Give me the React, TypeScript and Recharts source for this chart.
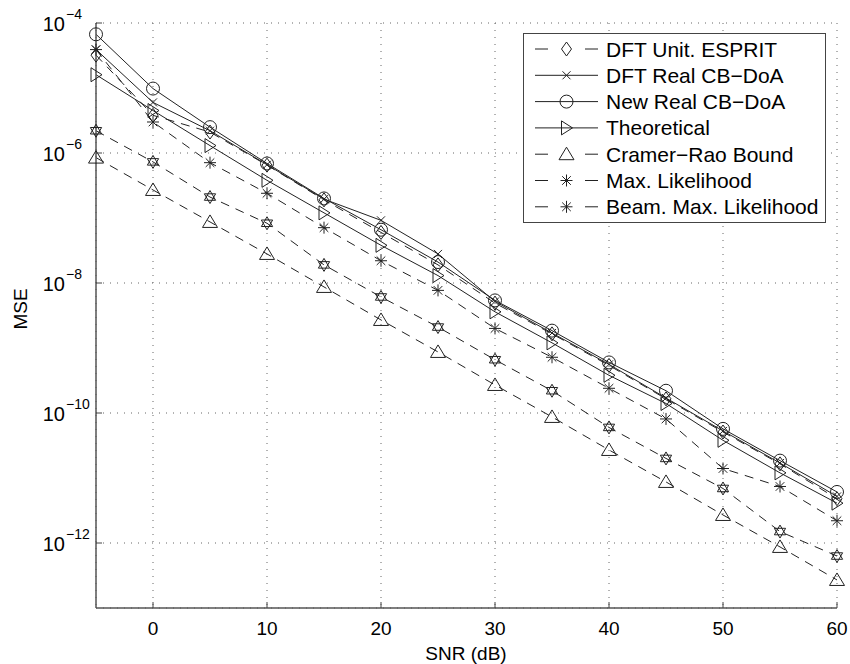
import React from 'react';
import { LineChart, Line, XAxis, YAxis, CartesianGrid, Legend } from 'recharts';

// SNR in dB
const snr = [-5, 0, 5, 10, 15, 20, 25, 30, 35, 40, 45, 50, 55, 60];

// MSE per method
const dftEsprit = [3.2e-5, 3.8e-6, 2.1e-6, 6.5e-7, 1.9e-7, 6.0e-8, 1.9e-8, 4.9e-9, 1.65e-9, 5.4e-10, 1.65e-10, 5.1e-11, 1.65e-11, 4.8e-12];
const dftRealCb = [3.9e-5, 6.0e-6, 2.2e-6, 6.6e-7, 1.95e-7, 9.2e-8, 2.8e-8, 5.2e-9, 1.7e-9, 5.6e-10, 1.7e-10, 5.3e-11, 1.7e-11, 5.2e-12];
const newRealCb = [6.7e-5, 9.8e-6, 2.5e-6, 6.9e-7, 2.0e-7, 6.6e-8, 2.1e-8, 5.4e-9, 1.85e-9, 6.0e-10, 2.2e-10, 5.7e-11, 1.85e-11, 6.1e-12];
const theoretical = [1.6e-5, 4.5e-6, 1.3e-6, 3.8e-7, 1.2e-7, 3.8e-8, 1.3e-8, 3.6e-9, 1.2e-9, 3.8e-10, 1.4e-10, 3.8e-11, 1.2e-11, 4.1e-12];
const crb = [8.5e-7, 2.7e-7, 8.7e-8, 2.8e-8, 8.7e-9, 2.7e-9, 8.7e-10, 2.7e-10, 8.7e-11, 2.7e-11, 8.7e-12, 2.7e-12, 8.7e-13, 2.7e-13];
const maxLik = [2.2e-6, 7.3e-7, 2.1e-7, 8.3e-8, 1.9e-8, 6.1e-9, 2.1e-9, 6.6e-10, 2.2e-10, 6.0e-11, 2.0e-11, 6.9e-12, 1.5e-12, 6.3e-13];
const beamMaxLik = [3.9e-5, 3.0e-6, 7.1e-7, 2.4e-7, 7.1e-8, 2.2e-8, 7.7e-9, 2.0e-9, 7.2e-10, 2.4e-10, 8.1e-11, 1.4e-11, 7.4e-12, 2.2e-12];

const xTicks = [0, 10, 20, 30, 40, 50, 60];
const yTicks = [1e-12, 1e-10, 1e-8, 1e-6, 1e-4];

const data = snr.map((s, i) => ({
  snr: s,
  esprit: dftEsprit[i],
  dftReal: dftRealCb[i],
  newReal: newRealCb[i],
  theo: theoretical[i],
  crb: crb[i],
  ml: maxLik[i],
  beamMl: beamMaxLik[i],
}));

const INK = '#222';
const FONT = '"Liberation Sans", Arial, Helvetica, sans-serif';
const PLOT_TOP = 23;
const PLOT_BOTTOM = 608;
const PLOT_LEFT = 96;
const PLOT_RIGHT = 837;
const DASH = '9 7';

type Shape = 'diamond' | 'x' | 'circle' | 'triRight' | 'triUp' | 'asterisk' | 'hexagram';

const Marker = ({ cx, cy, shape }: { cx: number; cy: number; shape: Shape }) => {
  const p = { fill: 'none', stroke: INK, strokeWidth: 1 };
  switch (shape) {
    case 'diamond':
      return <polygon {...p} points={`${cx},${cy - 7} ${cx + 5},${cy} ${cx},${cy + 7} ${cx - 5},${cy}`} />;
    case 'x':
      return (
        <g {...p}>
          <line x1={cx - 4} y1={cy - 4} x2={cx + 4} y2={cy + 4} />
          <line x1={cx - 4} y1={cy + 4} x2={cx + 4} y2={cy - 4} />
        </g>
      );
    case 'circle':
      return <circle {...p} cx={cx} cy={cy} r={6.5} />;
    case 'triRight':
      return <polygon {...p} points={`${cx - 5},${cy - 7} ${cx + 6},${cy} ${cx - 5},${cy + 7}`} />;
    case 'triUp':
      return <polygon {...p} points={`${cx},${cy - 7} ${cx + 7.5},${cy + 5.5} ${cx - 7.5},${cy + 5.5}`} />;
    case 'asterisk':
      return (
        <g {...p}>
          <line x1={cx} y1={cy - 6} x2={cx} y2={cy + 6} />
          <line x1={cx - 6} y1={cy} x2={cx + 6} y2={cy} />
          <line x1={cx - 4.3} y1={cy - 4.3} x2={cx + 4.3} y2={cy + 4.3} />
          <line x1={cx - 4.3} y1={cy + 4.3} x2={cx + 4.3} y2={cy - 4.3} />
        </g>
      );
    case 'hexagram': {
      const r = 6.5;
      const tri = (rot: number) =>
        [0, 1, 2]
          .map((k) => {
            const a = rot + (k * 2 * Math.PI) / 3;
            return `${cx + r * Math.sin(a)},${cy - r * Math.cos(a)}`;
          })
          .join(' ');
      return (
        <g {...p}>
          <polygon points={tri(0)} />
          <polygon points={tri(Math.PI)} />
        </g>
      );
    }
  }
  return null;
};

const dotFor = (shape: Shape) => (props: any) => {
  const { cx, cy, index } = props;
  if (cx == null || cy == null) return <g key={`e-${shape}-${index}`} />;
  return (
    <g key={`${shape}-${index}`}>
      <Marker cx={cx} cy={cy} shape={shape} />
    </g>
  );
};

type Series = { key: string; name: string; shape: Shape; legendShape: Shape; dashed: boolean };

const series: Series[] = [
  { key: 'esprit', name: 'DFT Unit. ESPRIT', shape: 'diamond', legendShape: 'diamond', dashed: true },
  { key: 'dftReal', name: 'DFT Real CB\u2212DoA', shape: 'x', legendShape: 'x', dashed: false },
  { key: 'newReal', name: 'New Real CB\u2212DoA', shape: 'circle', legendShape: 'circle', dashed: false },
  { key: 'theo', name: 'Theoretical', shape: 'triRight', legendShape: 'triRight', dashed: false },
  { key: 'crb', name: 'Cramer\u2212Rao Bound', shape: 'triUp', legendShape: 'triUp', dashed: true },
  { key: 'ml', name: 'Max. Likelihood', shape: 'hexagram', legendShape: 'asterisk', dashed: true },
  { key: 'beamMl', name: 'Beam. Max. Likelihood', shape: 'asterisk', legendShape: 'asterisk', dashed: true },
];

const BottomTick = ({ x, payload }: any) => (
  <g>
    <line x1={x} y1={PLOT_BOTTOM} x2={x} y2={PLOT_BOTTOM - 6} stroke="#444" />
    <text x={x} y={635} textAnchor="middle" fontSize={19} fill="#000" fontFamily={FONT}>
      {payload.value}
    </text>
  </g>
);

const TopTick = ({ x }: any) => (
  <line x1={x} y1={PLOT_TOP} x2={x} y2={PLOT_TOP + 6} stroke="#444" />
);

const LeftTick = ({ y, payload }: any) => {
  const exp = Math.round(Math.log10(payload.value));
  return (
    <g fontFamily={FONT} fill="#000">
      <line x1={PLOT_LEFT} y1={y} x2={PLOT_LEFT + 6} y2={y} stroke="#444" />
      <text x={65} y={y + 8} textAnchor="end" fontSize={20}>10</text>
      <text x={66} y={y - 4} textAnchor="start" fontSize={14}>{`\u2212${-exp}`}</text>
    </g>
  );
};

const RightTick = ({ y }: any) => (
  <line x1={PLOT_RIGHT} y1={y} x2={PLOT_RIGHT - 6} y2={y} stroke="#444" />
);

const LegendBox = () => {
  const w = 303;
  const h = 190;
  return (
    <svg width={w} height={h} style={{ display: 'block' }}>
      <rect x={0.5} y={0.5} width={w - 1} height={h - 1} fill="#fff" stroke="#444" strokeWidth={1} />
      {series.map((s, i) => {
        const cy = 16 + i * 26.3;
        return (
          <g key={s.key}>
            {s.dashed ? (
              <g stroke={INK} strokeWidth={1}>
                <line x1={12} y1={cy} x2={25} y2={cy} />
                <line x1={62} y1={cy} x2={75} y2={cy} />
              </g>
            ) : (
              <line x1={12} y1={cy} x2={75} y2={cy} stroke={INK} strokeWidth={1} />
            )}
            <Marker cx={43.5} cy={cy} shape={s.legendShape} />
            <text x={83} y={cy + 7.5} fontSize={21} fill="#000" fontFamily={FONT}>
              {s.name}
            </text>
          </g>
        );
      })}
    </svg>
  );
};

export default function App() {
  return (
    <div style={{ position: 'absolute', left: 0, top: 0, width: 850, height: 664, background: '#fff', fontFamily: FONT }}>
      <LineChart width={850} height={664} data={data} margin={{ top: PLOT_TOP, right: 850 - PLOT_RIGHT, bottom: 0, left: 0 }}>
        <CartesianGrid xAxisId="b" yAxisId="l" stroke="#666" strokeDasharray="1 6" />
        <XAxis
          xAxisId="b"
          dataKey="snr"
          type="number"
          domain={[-5, 60]}
          ticks={xTicks}
          height={664 - PLOT_BOTTOM}
          tickLine={false}
          tick={<BottomTick />}
          axisLine={{ stroke: '#555', strokeWidth: 1.5 }}
          label={{
            content: () => (
              <text x={466} y={660} textAnchor="middle" fontSize={19} fill="#000" fontFamily={FONT}>
                SNR (dB)
              </text>
            ),
          }}
        />
        <XAxis
          xAxisId="t"
          orientation="top"
          dataKey="snr"
          type="number"
          domain={[-5, 60]}
          ticks={xTicks}
          height={0}
          tickLine={false}
          tick={<TopTick />}
          axisLine={{ stroke: '#444', strokeWidth: 1 }}
        />
        <YAxis
          yAxisId="l"
          scale="log"
          type="number"
          domain={[1e-13, 1e-4]}
          allowDataOverflow
          ticks={yTicks}
          width={PLOT_LEFT}
          tickLine={false}
          tick={<LeftTick />}
          axisLine={{ stroke: '#555', strokeWidth: 1.5 }}
          label={{
            content: () => (
              <text x={27} y={309} transform="rotate(-90 27 309)" textAnchor="middle" fontSize={19} fill="#000" fontFamily={FONT}>
                MSE
              </text>
            ),
          }}
        />
        <YAxis
          yAxisId="r"
          orientation="right"
          scale="log"
          type="number"
          domain={[1e-13, 1e-4]}
          allowDataOverflow
          ticks={yTicks}
          width={0}
          tickLine={false}
          tick={<RightTick />}
          axisLine={{ stroke: '#444', strokeWidth: 1 }}
        />
        {series.map((s) => (
          <Line
            key={s.key}
            xAxisId="b"
            yAxisId="l"
            dataKey={s.key}
            name={s.name}
            type="linear"
            stroke={INK}
            strokeWidth={1}
            strokeDasharray={s.dashed ? DASH : undefined}
            dot={dotFor(s.shape)}
            activeDot={false}
            isAnimationActive={false}
          />
        ))}
        <Legend
          layout="vertical"
          align="center"
          verticalAlign="middle"
          content={<LegendBox />}
          wrapperStyle={{ position: 'absolute', left: 523, top: 33, width: 303, height: 190 }}
        />
      </LineChart>
    </div>
  );
}
